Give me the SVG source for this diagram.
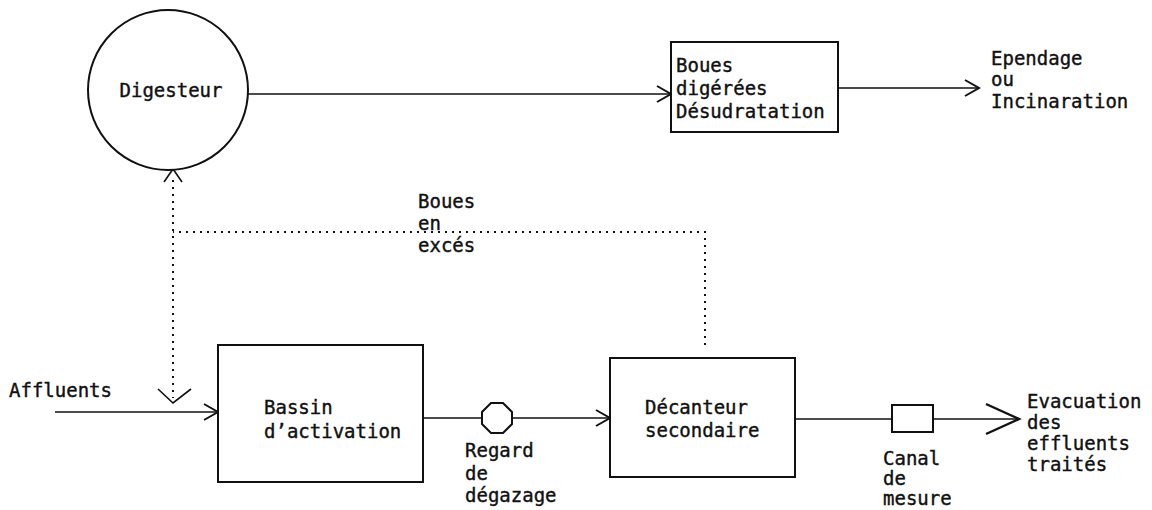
<svg xmlns="http://www.w3.org/2000/svg" width="1152" height="510" viewBox="0 0 1152 510">
<defs>
<style>
.box{fill:#fff;stroke:#111;stroke-width:2}
.ln{fill:none;stroke:#111;stroke-width:1.6}
.dot{fill:none;stroke:#111;stroke-width:2;stroke-dasharray:2 5}
.t{font-family:"DejaVu Sans Mono","Liberation Mono",monospace;font-size:19px;fill:#111;stroke:#111;stroke-width:0.4}
</style>
<marker id="ah" markerUnits="userSpaceOnUse" markerWidth="20" markerHeight="24" refX="15" refY="12" orient="auto">
<path d="M1,4 L15,12 L1,20" fill="none" stroke="#111" stroke-width="2"/>
</marker>
<marker id="ahL" markerUnits="userSpaceOnUse" markerWidth="40" markerHeight="34" refX="34" refY="17" orient="auto">
<path d="M1,2 L34,17 L1,32" fill="none" stroke="#111" stroke-width="2.4"/>
</marker>
</defs>
<rect width="1152" height="510" fill="#fff"/>
<g id="connectors">
<line class="ln" x1="248" y1="94" x2="671" y2="94" marker-end="url(#ah)"/>
<line class="ln" x1="838" y1="88" x2="979" y2="88" marker-end="url(#ah)"/>
<line class="ln" x1="55" y1="412" x2="218" y2="412" marker-end="url(#ah)"/>
<line class="ln" x1="423" y1="418" x2="482" y2="418"/>
<line class="ln" x1="512" y1="418" x2="610" y2="418" marker-end="url(#ah)"/>
<line class="ln" x1="795" y1="419" x2="892" y2="419"/>
<line class="ln" x1="933" y1="419" x2="1019" y2="419" marker-end="url(#ahL)"/>
<path class="dot" d="M705,345 L705,232 L173,232"/>
<line class="dot" x1="173" y1="180" x2="173" y2="398"/>
<polyline class="ln" points="164,182 173,169 182,182" stroke-width="2"/>
<polyline class="ln" points="158,389 173,403 191,389" stroke-width="2"/>
</g>
<g id="digesteur">
<circle class="box" cx="168" cy="90" r="80"/>
<text class="t" x="171" y="97" text-anchor="middle">Digesteur</text>
</g>
<g id="boues-digerees">
<rect class="box" x="671" y="42" width="167" height="90"/>
<text class="t" x="676" y="72">Boues</text>
<text class="t" x="676" y="95">digérées</text>
<text class="t" x="676" y="118">Désudratation</text>
</g>
<g id="ependage">
<text class="t" x="991" y="65">Ependage</text>
<text class="t" x="991" y="86">ou</text>
<text class="t" x="991" y="108">Incinaration</text>
</g>
<g id="boues-exces">
<text class="t" x="418" y="208">Boues</text>
<text class="t" x="418" y="230">en</text>
<text class="t" x="418" y="252">excés</text>
</g>
<g id="affluents">
<text class="t" x="9" y="397">Affluents</text>
</g>
<g id="bassin">
<rect class="box" x="218" y="345" width="205" height="137"/>
<text class="t" x="264" y="414">Bassin</text>
<text class="t" x="264" y="438">d’activation</text>
</g>
<g id="regard">
<polygon class="box" points="491,403 503,403 512,412 512,424 503,433 491,433 482,424 482,412"/>
<text class="t" x="465" y="457">Regard</text>
<text class="t" x="465" y="480">de</text>
<text class="t" x="465" y="502">dégazage</text>
</g>
<g id="decanteur">
<rect class="box" x="610" y="358" width="185" height="119"/>
<text class="t" x="645" y="414">Décanteur</text>
<text class="t" x="645" y="437">secondaire</text>
</g>
<g id="canal">
<rect class="box" x="892" y="405" width="41" height="27"/>
<text class="t" x="883" y="465">Canal</text>
<text class="t" x="883" y="485">de</text>
<text class="t" x="883" y="505">mesure</text>
</g>
<g id="evacuation">
<text class="t" x="1027" y="408">Evacuation</text>
<text class="t" x="1027" y="429">des</text>
<text class="t" x="1027" y="450">effluents</text>
<text class="t" x="1027" y="471">traités</text>
</g>
</svg>
